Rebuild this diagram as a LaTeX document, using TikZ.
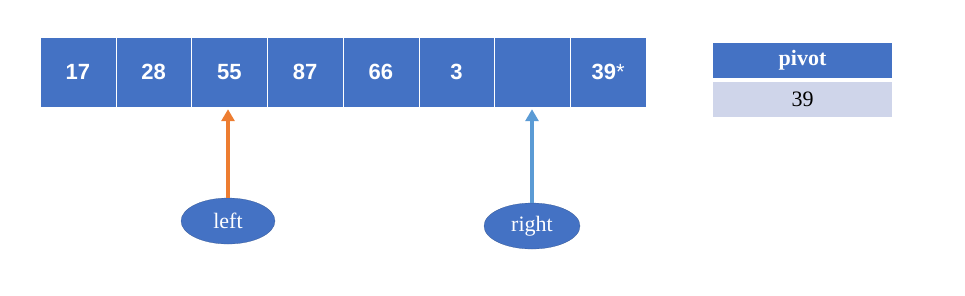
\documentclass[tikz,border=0pt]{standalone}
\usepackage{fontspec}
\setmainfont{Liberation Serif}
\newfontfamily\cellfont{Liberation Sans}
\usetikzlibrary{positioning}
\usetikzlibrary{arrows.meta}
\usetikzlibrary{shapes.geometric}

\definecolor{cellblue}{HTML}{4472C4}
\definecolor{ptrorange}{HTML}{ED7D31}
\definecolor{ptrblue}{HTML}{5B9BD5}
\definecolor{rowgray}{HTML}{CFD5EA}

\tikzset{
  cell/.style={rectangle,fill=cellblue,draw=white,thin,minimum width=75.75pt,minimum height=70pt,inner sep=0pt,text=white,font=\cellfont\bfseries\fontsize{22}{26}\selectfont},
  ptr/.style={ellipse,fill=cellblue,draw=cellblue!70!black,very thin,minimum width=94pt,minimum height=46pt,inner sep=0pt,text=white,font=\fontsize{22}{26}\selectfont},
  ptrarrow/.style={line width=4pt,-{Triangle[length=12pt,width=13pt]},shorten >=2pt}
}

\begin{document}
\begin{tikzpicture}[x=1pt,y=-1pt]
\useasboundingbox (0,0) rectangle (965,295);
\node[cell] (c1) at (77.9, 72) {17};
\node[cell] (c2) at (153.6, 72) {28};
\node[cell] (c3) at (229.4, 72) {55};
\node[cell] (c4) at (305.1, 72) {87};
\node[cell] (c5) at (380.9, 72) {66};
\node[cell] (c6) at (456.6, 72) {3};
\node[cell] (c7) at (532.4, 72) {};
\node[cell] (c8) at (608.1, 72) {39{\mdseries *}};

\node[rectangle,fill=cellblue,minimum width=179pt,minimum height=35pt,inner sep=0pt,text=white,font=\bfseries\fontsize{22}{26}\selectfont] (pivot) at (802.5, 60.5) {pivot};
\node[rectangle,fill=rowgray,minimum width=179pt,minimum height=35pt,inner sep=0pt,font=\fontsize{22}{26}\selectfont] (pivotval) at (802.5, 99.5) {39};

\node[ptr] (left) at (228, 221) {left};
\node[ptr,minimum width=96pt] (right) at (532, 226) {right};

\draw[ptrarrow,ptrorange] (left) -- (left |- c3.south);
\draw[ptrarrow,ptrblue] (right) -- (right |- c7.south);

\end{tikzpicture}
\end{document}
